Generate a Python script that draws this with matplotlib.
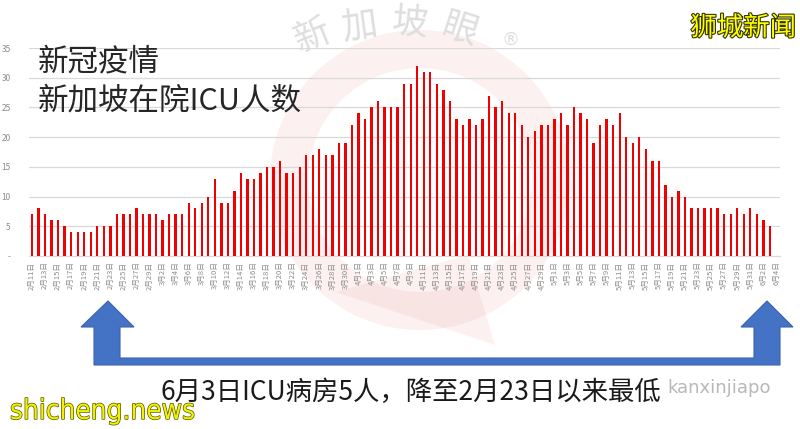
import numpy as np
import pandas as pd
import matplotlib
matplotlib.use("Agg")
import matplotlib.pyplot as plt
from matplotlib.patches import Polygon, Wedge
import matplotlib.patheffects as pe

plt.rcParams['font.family'] = ['Noto Sans CJK SC', 'DejaVu Sans']

# --- 数据 ---
dates = pd.date_range('2020-02-11', '2020-06-04')
date_labels = [f"{d.month}月{d.day}日" for d in dates]
icu = [7, 8, 7, 6, 6, 5, 4, 4, 4, 4, 5, 5, 5, 7, 7, 7, 8, 7, 7, 7,
       6, 7, 7, 7, 9, 8, 9, 10, 13, 9, 9, 11, 14, 13, 13, 14, 15,
       15, 16, 14, 14, 15, 17, 17, 18, 17, 17, 19, 19, 22, 24, 23, 25, 26, 25,
       25, 25, 29, 29, 32, 31, 31, 29, 28, 26, 23, 22, 23, 22, 23, 27, 25, 26,
       24, 24, 22, 20,
       21, 22, 22, 23, 24, 22, 25, 24, 23, 19, 22, 23, 22, 24, 20, 19, 20, 18,
       16, 16, 12, 10, 11, 10, 8, 8, 8, 8, 8, 7, 7, 8, 7, 8, 7, 6, 5]
y_ticks = [0, 5, 10, 15, 20, 25, 30, 35]
y_ticklabels = ['-', '5', '10', '15', '20', '25', '30', '35']

title_lines = ["新冠疫情", "新加坡在院ICU人数"]
note = "6月3日ICU病房5人，降至2月23日以来最低"

W, H = 800, 429
fig = plt.figure(figsize=(8, 4.29), dpi=100)

# 背景水印层
bg = fig.add_axes([0, 0, 1, 1], zorder=0)
bg.set_xlim(0, W)
bg.set_ylim(H, 0)
bg.axis('off')
bg.add_patch(Wedge((420, 180), 150, 0, 360, width=38, color='#f4c4c4', alpha=0.25, lw=0))
bg.add_patch(Polygon([(335, 292), (495, 345), (468, 255)], closed=True,
                     color='#f4c4c4', alpha=0.25, lw=0))
for ch, x, y, r in [("新", 312, 36, 22), ("加", 360, 26, 8), ("坡", 410, 24, -5),
                    ("眼", 460, 30, -18)]:
    bg.text(x, y, ch, fontsize=26, color='#dedede', rotation=r,
            ha='center', va='center')
bg.text(510, 40, "®", fontsize=13, color='#dedede', ha='center', va='center',
        family=['DejaVu Sans'])

# --- 主图 ---
ax = fig.add_axes([28.7 / W, 1 - 256 / H, (779.7 - 28.7) / W, (256 - 48) / H], zorder=1)
ax.patch.set_alpha(0)
x = np.arange(len(date_labels))
ax.bar(x[:len(icu)], icu, width=0.36, color='#f00000', zorder=3)
ax.set_xlim(-0.5, len(date_labels) - 0.5)
ax.set_ylim(0, 35)
ax.set_yticks(y_ticks)
ax.set_yticklabels(y_ticklabels, fontsize=6, color='#8c8c8c')
ax.set_xticks(x[::2])
ax.set_xticklabels(date_labels[::2], rotation=90, fontsize=5.5, color='#8c8c8c')
ax.tick_params(length=0, pad=4)
ax.tick_params(axis='y', pad=13)
ax.grid(axis='y', color='#d9d9d9', lw=0.9, zorder=0)
for s in ['top', 'right', 'left']:
    ax.spines[s].set_visible(False)
ax.spines['bottom'].set_color('#d9d9d9')

# 前景层：标题、箭头、说明文字
fg = fig.add_axes([0, 0, 1, 1], zorder=2)
fg.set_xlim(0, W)
fg.set_ylim(H, 0)
fg.axis('off')
fg.patch.set_alpha(0)

fg.text(38, 62, title_lines[0], fontsize=22, color='#262626', va='center', ha='left')
fg.text(38, 101, title_lines[1], fontsize=22, color='#262626', va='center', ha='left')

arrow = [(94, 365), (780, 365), (780, 327), (793, 327), (767, 301), (741, 327),
         (754, 327), (754, 358), (120, 358), (120, 327), (134, 327), (108, 301),
         (81, 327), (94, 327)]
fg.add_patch(Polygon(arrow, closed=True, facecolor='#4472c4', edgecolor='#3b64ad', lw=0.8))

fg.text(161, 392, note, fontsize=19, color='#1a1a1a', va='center', ha='left')
fg.text(667, 388, "kanxinjiapo", fontsize=13, color='#b8b8b8', va='center', ha='left',
        family=['DejaVu Sans'])

fg.text(796, 28, "狮城新闻", fontsize=19, color='#ffff00', va='center', ha='right',
        path_effects=[pe.withStroke(linewidth=1.6, foreground='#333300')])
fg.text(10, 411, "shicheng.news", fontsize=20, color='#f2f200', va='center', ha='left',
        family=['DejaVu Sans'], stretch='condensed',
        path_effects=[pe.withStroke(linewidth=1.0, foreground='#555500')])

fig.savefig('out.png', dpi=100)
